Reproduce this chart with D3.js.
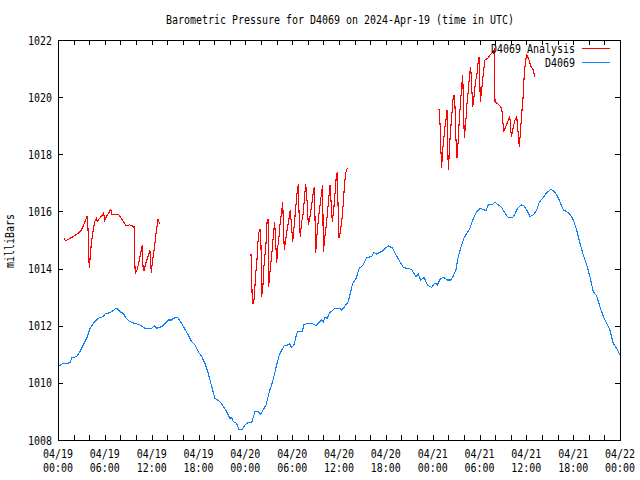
<!DOCTYPE html>
<html><head><meta charset="utf-8">
<script src="https://cdn.jsdelivr.net/npm/d3@7/dist/d3.min.js"></script>
<style>body{margin:0;background:#fff}svg{display:block}</style>
</head><body><svg id="c" width="640" height="480"></svg>
<script>
const titleText = "Barometric Pressure for D4069 on 2024-Apr-19 (time in UTC)";
const yAxisLabel = "milliBars";
const seriesNames = ["D4069 Analysis", "D4069"];
const seriesColors = ["#ff0000", "#0a80ff"];
const startTime = Date.UTC(2024, 3, 19, 0, 0);
const endTime = Date.UTC(2024, 3, 22, 0, 0);
const yTickValues = [1008, 1010, 1012, 1014, 1016, 1018, 1020, 1022];

// station observations: hours since 2024-04-19 00:00 UTC, pressure (mb)
const stationHours = [0,0.68,1.54,1.76,2.4,2.82,3.24,3.68,4.1,4.52,5.16,5.8,6.02,6.66,7.08,7.43,7.72,7.94,8.37,8.58,8.88,9.22,9.86,10.5,11.15,12.0,12.34,12.64,13.28,13.71,14.13,14.57,14.77,15.21,15.41,15.85,16.27,16.69,17.13,17.55,17.97,18.41,18.83,19.25,19.69,20.11,20.75,21.18,21.61,22.03,22.25,22.46,22.89,23.19,23.61,23.96,24.38,24.81,25.24,25.66,25.97,26.3,26.65,27.07,27.38,27.71,28.02,28.35,28.66,28.99,29.5,29.63,29.94,30.27,30.58,30.78,31.3,31.51,31.77,32.5,33.05,33.35,33.78,33.99,34.2,34.5,34.76,35.06,35.49,36.13,36.34,36.77,37.19,37.5,37.75,38.18,38.6,39.11,39.55,40.19,40.48,40.83,41.6,42.02,42.37,42.88,43.3,43.72,44.24,44.67,45.31,45.52,45.86,46.16,46.47,46.89,47.31,47.87,48.3,48.59,49.03,49.45,49.87,50.31,50.64,50.99,51.28,51.72,52.01,52.36,52.78,53.13,53.64,54.06,54.48,54.83,55.12,55.69,55.98,56.41,56.84,57.26,57.69,58.25,58.54,58.84,59.31,59.7,60.04,60.47,60.89,61.33,61.66,62.09,62.61,63.16,63.45,63.89,64.31,64.74,65.38,65.81,66.1,66.45,66.87,67.3,67.73,68.15,68.58,69.01,69.43,69.86,70.29,70.71,71.14,71.57,71.9,72.0];
const stationMb = [1010.58,1010.68,1010.70,1010.88,1010.92,1011.09,1011.33,1011.56,1011.91,1012.08,1012.26,1012.32,1012.41,1012.46,1012.53,1012.61,1012.57,1012.49,1012.43,1012.32,1012.22,1012.14,1012.08,1012.03,1011.91,1011.91,1012.0,1011.91,1011.97,1012.08,1012.2,1012.2,1012.26,1012.29,1012.26,1012.08,1011.87,1011.67,1011.44,1011.33,1011.09,1010.92,1010.68,1010.33,1009.87,1009.46,1009.34,1009.17,1008.99,1008.76,1008.79,1008.64,1008.58,1008.37,1008.37,1008.53,1008.61,1008.61,1008.99,1008.99,1008.9,1009.07,1009.22,1009.69,1009.93,1010.28,1010.63,1010.98,1011.15,1011.3,1011.33,1011.38,1011.24,1011.35,1011.73,1011.81,1011.81,1012.03,1012.06,1012.08,1012.01,1012.08,1012.2,1012.14,1012.29,1012.26,1012.43,1012.51,1012.61,1012.61,1012.53,1012.69,1012.84,1013.19,1013.48,1013.66,1014.01,1014.13,1014.39,1014.42,1014.56,1014.51,1014.62,1014.73,1014.8,1014.71,1014.48,1014.28,1014.04,1014.01,1013.97,1013.87,1013.72,1013.8,1013.6,1013.69,1013.43,1013.34,1013.5,1013.43,1013.66,1013.69,1013.6,1013.6,1013.74,1013.97,1014.42,1014.83,1015.06,1015.23,1015.41,1015.7,1015.99,1016.11,1016.07,1016.02,1016.23,1016.25,1016.32,1016.23,1016.14,1015.94,1015.79,1015.79,1015.91,1016.09,1016.23,1016.19,1016.05,1015.82,1015.88,1016.05,1016.32,1016.46,1016.66,1016.77,1016.73,1016.58,1016.34,1016.05,1015.96,1015.82,1015.64,1015.35,1014.88,1014.48,1014.13,1013.72,1013.19,1013.04,1012.67,1012.32,1012.08,1011.85,1011.38,1011.21,1011.03,1010.97];

// analysis: three separate runs, [hours, mb]
const analysisRun1 = [[0.77,1015.06],[0.94,1014.97],[1.28,1015.02],[1.70,1015.08],[2.14,1015.16],[2.56,1015.23],[2.91,1015.32],[3.20,1015.47],[3.50,1015.67],[3.75,1015.84],[3.84,1015.41],[3.93,1014.48],[4.01,1014.01],[4.14,1014.48],[4.27,1014.88],[4.48,1015.29],[4.70,1015.64],[4.91,1015.76],[5.03,1015.64],[5.34,1015.76],[5.68,1015.88],[5.85,1015.94],[5.98,1015.68],[6.19,1015.82],[6.50,1015.94],[6.75,1016.07],[6.92,1015.88],[7.78,1015.88],[8.11,1015.76],[8.55,1015.58],[8.75,1015.50],[9.19,1015.53],[9.74,1015.47],[9.83,1014.30],[9.90,1013.81],[10.12,1013.95],[10.38,1014.24],[10.67,1014.65],[10.80,1014.83],[10.89,1014.07],[11.02,1013.92],[11.24,1014.18],[11.53,1014.42],[11.79,1014.63],[11.95,1013.86],[12.08,1014.18],[12.39,1014.83],[12.59,1015.29],[12.81,1015.72],[13.03,1015.58]];
const analysisRun2 = [[24.73,1014.51],[24.82,1013.66],[24.89,1012.78],[25.07,1012.78],[25.15,1013.02],[25.33,1013.83],[25.49,1014.30],[25.66,1015.12],[25.79,1015.35],[25.92,1015.35],[26.01,1014.77],[26.10,1013.02],[26.26,1013.43],[26.43,1014.30],[26.61,1014.65],[26.74,1015.47],[26.81,1015.70],[26.94,1015.70],[26.99,1013.37],[27.12,1013.78],[27.29,1014.24],[27.46,1014.71],[27.63,1015.29],[27.76,1015.64],[28.02,1014.18],[28.14,1014.71],[28.31,1015.12],[28.48,1015.64],[28.66,1015.99],[28.79,1016.34],[28.86,1015.64],[28.99,1014.65],[29.17,1015.00],[29.38,1015.41],[29.56,1015.70],[29.76,1016.05],[30.07,1014.94],[30.23,1015.41],[30.45,1016.11],[30.62,1016.63],[30.79,1016.96],[30.91,1015.64],[31.04,1015.12],[31.22,1015.64],[31.43,1015.94],[31.55,1016.40],[31.73,1016.96],[31.86,1016.60],[32.07,1015.53],[32.28,1015.82],[32.50,1016.23],[32.71,1016.69],[32.84,1016.87],[32.93,1015.70],[33.01,1014.53],[33.18,1015.18],[33.35,1015.70],[33.57,1016.23],[33.78,1016.69],[33.91,1016.93],[33.99,1014.59],[34.20,1015.12],[34.42,1015.64],[34.63,1016.28],[34.85,1016.93],[34.97,1016.40],[35.14,1015.64],[35.32,1016.05],[35.49,1016.63],[35.65,1017.22],[35.78,1017.39],[35.87,1016.28],[36.00,1015.06],[36.17,1015.29],[36.35,1015.64],[36.55,1016.28],[36.73,1017.04],[36.90,1017.39],[37.06,1017.51]];
const analysisRun3 = [[48.81,1019.57],[48.94,1019.08],[49.07,1018.03],[49.16,1017.51],[49.23,1018.03],[49.41,1018.50],[49.58,1018.97],[49.71,1019.20],[49.84,1019.55],[50.00,1017.45],[50.13,1018.03],[50.26,1018.73],[50.44,1019.32],[50.60,1019.90],[50.73,1020.08],[50.86,1019.67],[50.99,1018.50],[51.12,1017.86],[51.28,1018.50],[51.41,1019.20],[51.59,1019.90],[51.72,1020.37],[51.85,1020.78],[52.05,1018.56],[52.23,1019.08],[52.40,1019.78],[52.57,1020.25],[52.74,1020.83],[52.87,1021.07],[53.13,1019.67],[53.30,1020.02],[53.46,1020.48],[53.68,1020.83],[53.85,1021.30],[53.97,1021.42],[54.10,1019.84],[54.28,1020.25],[54.49,1020.83],[54.70,1021.30],[55.05,1021.36],[55.35,1021.48],[55.57,1021.53],[55.86,1021.65],[55.90,1020.83],[55.99,1019.84],[56.50,1019.73],[56.85,1019.61],[56.97,1019.20],[57.10,1018.79],[57.36,1018.97],[57.62,1019.14],[57.87,1019.34],[58.08,1018.62],[58.34,1018.97],[58.55,1019.20],[58.77,1019.32],[59.10,1018.27],[59.23,1018.73],[59.41,1019.43],[59.57,1019.96],[59.74,1020.83],[59.92,1021.30],[60.08,1021.48],[60.34,1021.30],[60.59,1021.07],[60.89,1020.95],[61.07,1020.72]];

const W = 640, H = 480;
const plotL = 58, plotR = 620, plotT = 40, plotB = 440;
const FONT = "'DejaVu Sans Mono', 'Liberation Mono', monospace";
const CHAR_W = 6;

const svg = d3.select("#c");
svg.append("rect").attr("width", W).attr("height", H).attr("fill", "#fff");

const x = d3.scaleUtc().domain([new Date(startTime), new Date(endTime)]).range([plotL, plotR]);
const y = d3.scaleLinear().domain([1008, 1022]).range([plotB, plotT]);
const hToDate = h => new Date(startTime + h * 3600e3);

function txt(g, s, size) {
  return g.append("text").text(s)
    .attr("font-family", FONT).attr("font-size", size || 12)
    .attr("textLength", s.length * CHAR_W).attr("lengthAdjust", "spacingAndGlyphs")
    .attr("fill", "#000");
}

// title
txt(svg, titleText).attr("x", 340).attr("y", 24).attr("text-anchor", "middle");

// y label
txt(svg, yAxisLabel).attr("text-anchor", "middle")
  .attr("transform", "translate(14,241) rotate(-90)");

// axes ticks
const xTicks = d3.utcHour.every(2).range(new Date(startTime), new Date(endTime + 1));
const fmtDate = d3.utcFormat("%m/%d"), fmtTime = d3.utcFormat("%H:%M");
const TL = 5;

const gx = svg.append("g").attr("transform", `translate(0,${plotB})`)
  .call(d3.axisBottom(x).tickValues(xTicks).tickSizeInner(-TL).tickSizeOuter(0).tickFormat(""));
const gxt = svg.append("g").attr("transform", `translate(0,${plotT})`)
  .call(d3.axisTop(x).tickValues(xTicks).tickSizeInner(-TL).tickSizeOuter(0).tickFormat(""));
const gy = svg.append("g").attr("transform", `translate(${plotL},0)`)
  .call(d3.axisLeft(y).tickValues(yTickValues).tickSizeInner(-TL).tickSizeOuter(0).tickFormat(""));
const gyr = svg.append("g").attr("transform", `translate(${plotR},0)`)
  .call(d3.axisRight(y).tickValues(yTickValues).tickSizeInner(-TL).tickSizeOuter(0).tickFormat(""));
[gx, gxt, gy, gyr].forEach(g => {
  g.select(".domain").remove();
  g.selectAll("line").attr("stroke", "#000").attr("shape-rendering", "crispEdges");
});

// x tick labels every 6 hours
const labelTicks = xTicks.filter(d => d.getUTCHours() % 6 === 0);
labelTicks.forEach(d => {
  const px = x(d);
  txt(svg, fmtDate(d)).attr("x", px).attr("y", 458).attr("text-anchor", "middle");
  txt(svg, fmtTime(d)).attr("x", px).attr("y", 472).attr("text-anchor", "middle");
});
// y tick labels
yTickValues.forEach(v => {
  txt(svg, String(v)).attr("x", 52).attr("y", y(v) + 4.5).attr("text-anchor", "end");
});

// data lines
const line = d3.line().x(d => x(hToDate(d[0]))).y(d => y(d[1]));
const plot = svg.append("g");
const stationPts = stationHours.map((h, i) => [h, stationMb[i]]);
[analysisRun1, analysisRun2, analysisRun3].forEach(run => {
  plot.append("path").datum(run).attr("d", line)
    .attr("fill", "none").attr("stroke", seriesColors[0]).attr("stroke-width", 1.1)
    .attr("shape-rendering", "crispEdges");
});
plot.append("path").datum(stationPts).attr("d", line)
  .attr("fill", "none").attr("stroke", seriesColors[1]).attr("stroke-width", 1.1)
  .attr("shape-rendering", "crispEdges");

// frame
svg.append("rect").attr("x", plotL + 0.5).attr("y", plotT + 0.5)
  .attr("width", plotR - plotL).attr("height", plotB - plotT)
  .attr("fill", "none").attr("stroke", "#000").attr("shape-rendering", "crispEdges");

// legend
seriesNames.forEach((name, i) => {
  const ly = 48 + i * 14;
  txt(svg, name).attr("x", 575).attr("y", ly + 4.5).attr("text-anchor", "end");
  svg.append("line").attr("x1", 582).attr("x2", 610).attr("y1", ly + 0.5).attr("y2", ly + 0.5)
    .attr("stroke", seriesColors[i]).attr("shape-rendering", "crispEdges");
});
</script></body></html>
